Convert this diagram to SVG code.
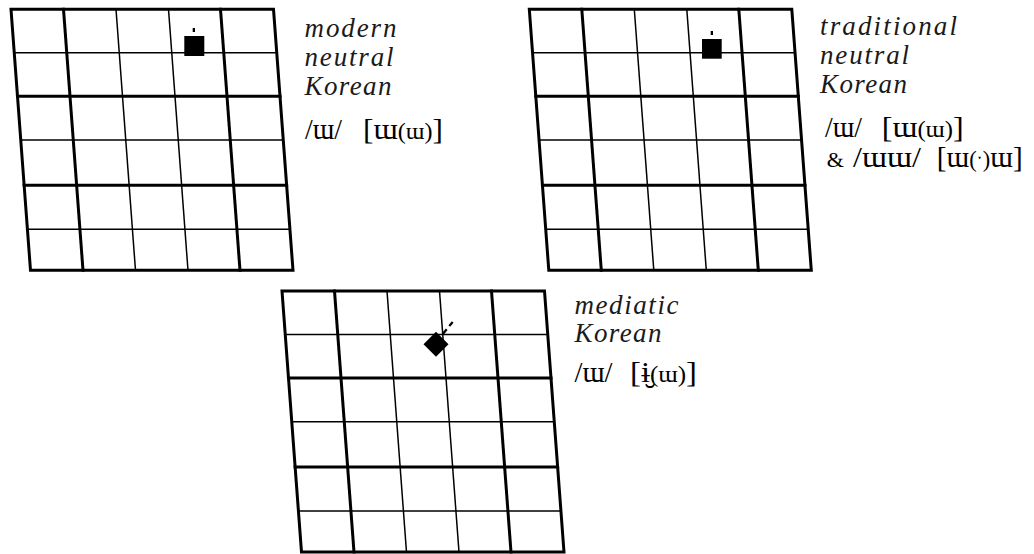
<svg xmlns="http://www.w3.org/2000/svg" width="1034" height="554" viewBox="0 0 1034 554">
  <style>
    .thick { stroke: #000; stroke-width: 3; fill: none; stroke-linecap: square; }
    .thin { stroke: #000; stroke-width: 1.5; fill: none; }
    text { font-family: "Liberation Serif", "DejaVu Serif", serif; }
    .lbl { font-style: italic; font-size: 27px; fill: #1a1a1a; }
    .ipa { font-size: 30px; fill: #000; }
    .sm { font-size: 23px; }
    .amp { font-size: 22px; }
  </style>
  <defs>
    <!-- 5 x 6 vowel chart, drawn upright then sheared -->
    <g id="chart">
      <line class="thin" x1="0" y1="43.5" x2="262.5" y2="43.5"/>
      <line class="thin" x1="0" y1="130.7" x2="262.5" y2="130.7"/>
      <line class="thin" x1="0" y1="220" x2="262.5" y2="220"/>
      <line class="thin" x1="105" y1="0" x2="105" y2="261"/>
      <line class="thin" x1="157.5" y1="0" x2="157.5" y2="261"/>
      <line class="thick" x1="0" y1="87" x2="262.5" y2="87"/>
      <line class="thick" x1="0" y1="176" x2="262.5" y2="176"/>
      <line class="thick" x1="52.5" y1="0" x2="52.5" y2="261"/>
      <line class="thick" x1="209.5" y1="0" x2="209.5" y2="261"/>
      <rect class="thick" x="0" y="0" width="262.5" height="261"/>
    </g>
  </defs>

  <g id="modern-neutral">
    <use href="#chart" transform="translate(11,9.3) skewX(4.27)"/>
    <rect x="192.7" y="28" width="2.3" height="4" fill="#000"/>
    <rect x="184.3" y="36" width="20" height="20" fill="#000"/>
    <text class="lbl" x="304.5" y="37" textLength="92" lengthAdjust="spacing">modern</text>
    <text class="lbl" x="304.5" y="66" textLength="89" lengthAdjust="spacing">neutral</text>
    <text class="lbl" x="304.5" y="95" textLength="87" lengthAdjust="spacing">Korean</text>
    <text class="ipa" x="305" y="139" textLength="37" lengthAdjust="spacingAndGlyphs">/ɯ/</text>
    <text class="ipa" x="363" y="139" textLength="80" lengthAdjust="spacingAndGlyphs">[ɯ<tspan class="sm">(ɯ)</tspan>]</text>
  </g>

  <g id="traditional-neutral">
    <use href="#chart" transform="translate(529.3,9.3) skewX(4.27)"/>
    <rect x="710.7" y="31" width="2.3" height="4" fill="#000"/>
    <rect x="702" y="39" width="19.7" height="19.7" fill="#000"/>
    <text class="lbl" x="820" y="35" textLength="137" lengthAdjust="spacing">traditional</text>
    <text class="lbl" x="820" y="63.5" textLength="89" lengthAdjust="spacing">neutral</text>
    <text class="lbl" x="820" y="92.5" textLength="87" lengthAdjust="spacing">Korean</text>
    <text class="ipa" x="825" y="136.5" textLength="37" lengthAdjust="spacingAndGlyphs">/ɯ/</text>
    <text class="ipa" x="881.7" y="136.5" textLength="82" lengthAdjust="spacingAndGlyphs">[ɯ<tspan class="sm">(ɯ)</tspan>]</text>
    <text class="ipa amp" x="826.7" y="166.5">&amp;</text>
    <text class="ipa" x="853" y="166.5" textLength="68" lengthAdjust="spacingAndGlyphs">/ɯɯ/</text>
    <text class="ipa" x="936.7" y="166.5" textLength="86" lengthAdjust="spacingAndGlyphs">[ɯ<tspan class="sm">(ˑ)</tspan>ɯ]</text>
  </g>

  <g id="mediatic">
    <use href="#chart" transform="translate(282,291) skewX(4.27)"/>
    <polygon points="436,331.8 448.5,344.3 436,356.8 423.5,344.3" fill="#000"/>
    <line x1="442.7" y1="334.3" x2="446.7" y2="329.3" stroke="#000" stroke-width="2.2"/>
    <line x1="449.3" y1="326" x2="452.7" y2="322" stroke="#000" stroke-width="2.2"/>
    <text class="lbl" x="574.5" y="313.5" textLength="104" lengthAdjust="spacing">mediatic</text>
    <text class="lbl" x="574.5" y="342" textLength="87" lengthAdjust="spacing">Korean</text>
    <text class="ipa" x="574.5" y="382" textLength="38" lengthAdjust="spacingAndGlyphs">/ɯ/</text>
    <text class="ipa" x="630" y="382" textLength="67" lengthAdjust="spacingAndGlyphs">[ɨ̮<tspan class="sm">(ɯ)</tspan>]</text>
  </g>
</svg>
